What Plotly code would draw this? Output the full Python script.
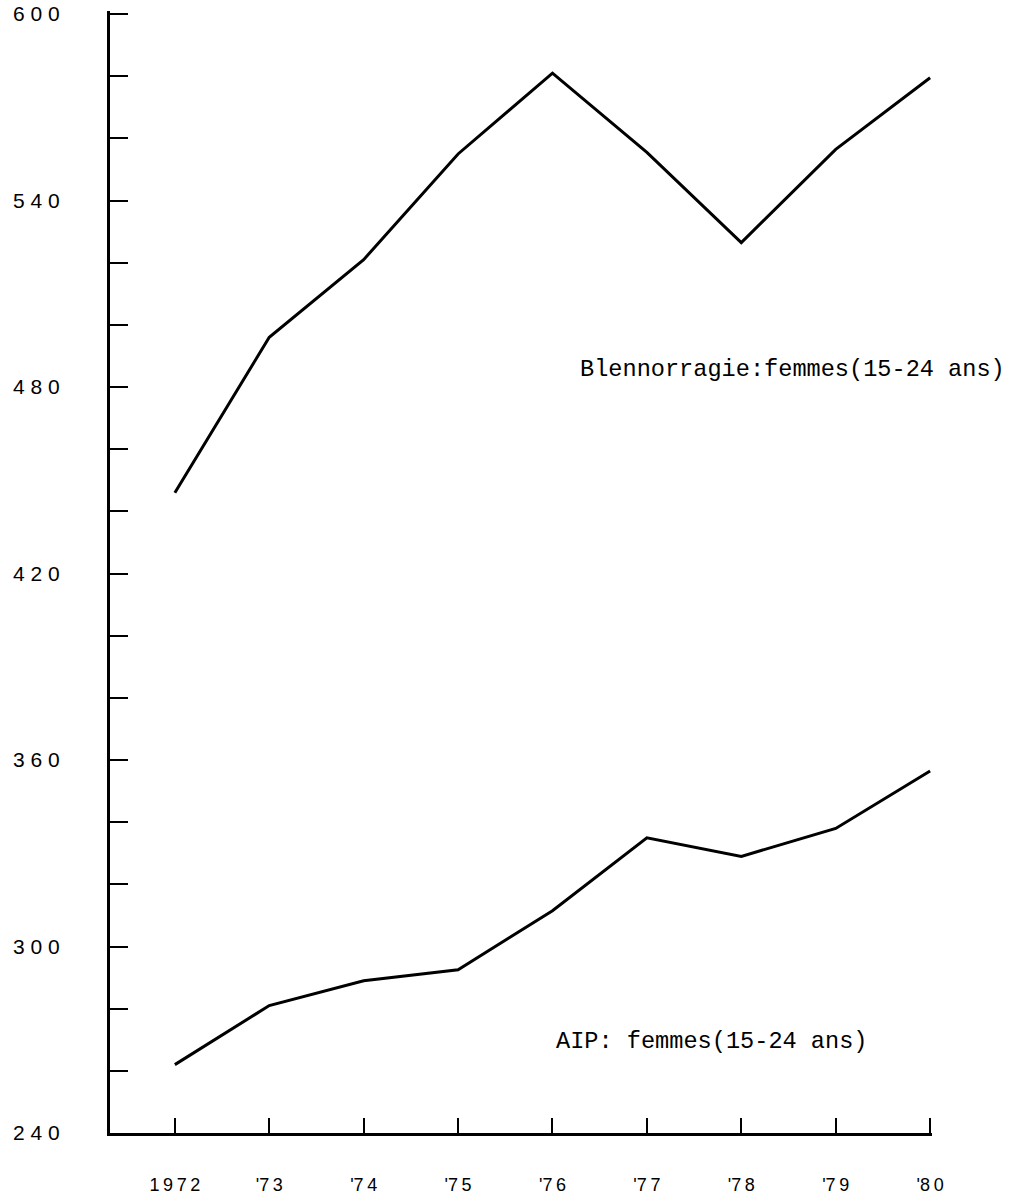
import plotly.graph_objects as go

years = [1972, 1973, 1974, 1975, 1976, 1977, 1978, 1979, 1980]
blennorragie = [446, 496, 521, 555, 581, 555.5, 526.5, 556.5, 579.5]
aip = [262, 281, 289, 292.5, 311.5, 335, 329, 338, 356.5]

x_ticktext = ["1\u20099\u20097\u20092", "\u02b97\u20093", "\u02b97\u20094", "\u02b97\u20095",
              "\u02b97\u20096", "\u02b97\u20097", "\u02b97\u20098", "\u02b97\u20099", "\u02b98\u20090"]
y_tickvals = list(range(240, 601, 20))
y_labels = {240: "2 4 0", 300: "3 0 0", 360: "3 6 0", 420: "4 2 0", 480: "4 8 0", 540: "5 4 0", 600: "6 0 0"}
y_ticktext = [y_labels.get(v, "") for v in y_tickvals]

label_blen = "Blennorragie:femmes(15-24 ans)"
label_aip = "AIP: femmes(15-24 ans)"

fig = go.Figure()
for ys in (blennorragie, aip):
    fig.add_trace(go.Scatter(x=years, y=ys, mode="lines",
                             line=dict(color="black", width=3),
                             cliponaxis=False, showlegend=False, hoverinfo="skip"))

fig.add_annotation(x=1976.27, y=485.7, xref="x", yref="y", text=label_blen,
                   showarrow=False, xanchor="left", yanchor="middle",
                   font=dict(family="Liberation Mono", size=23.6, color="black"))
fig.add_annotation(x=1976.02, y=269.6, xref="x", yref="y", text=label_aip,
                   showarrow=False, xanchor="left", yanchor="middle",
                   font=dict(family="Liberation Mono", size=23.6, color="black"))

fig.update_layout(
    width=1025, height=1200,
    margin=dict(l=110, r=93, t=11, b=67, autoexpand=False),
    paper_bgcolor="white", plot_bgcolor="white",
    font=dict(family="Liberation Sans", color="black"),
)
fig.update_xaxes(range=[1971.313, 1980.02], tickvals=years, ticktext=x_ticktext,
                 ticks="inside", ticklen=15, tickwidth=2.2, tickcolor="black",
                 showline=True, linecolor="black", linewidth=3,
                 showgrid=False, zeroline=False, automargin=False,
                 ticklabeloverflow="allow",
                 tickfont=dict(family="Liberation Sans", size=18, color="black"),
                 ticklabelstandoff=33)
fig.update_yaxes(range=[240, 601], tickvals=y_tickvals, ticktext=y_ticktext,
                 ticks="inside", ticklen=18, tickwidth=2.2, tickcolor="black",
                 showline=True, linecolor="black", linewidth=3,
                 showgrid=False, zeroline=False, automargin=False,
                 ticklabeloverflow="allow",
                 tickfont=dict(family="Liberation Sans", size=21, color="black"),
                 ticklabelstandoff=43)

fig.write_html("out.html", config={"displayModeBar": False},
               post_script="document.body.style.margin='0';document.body.style.overflow='hidden';")
